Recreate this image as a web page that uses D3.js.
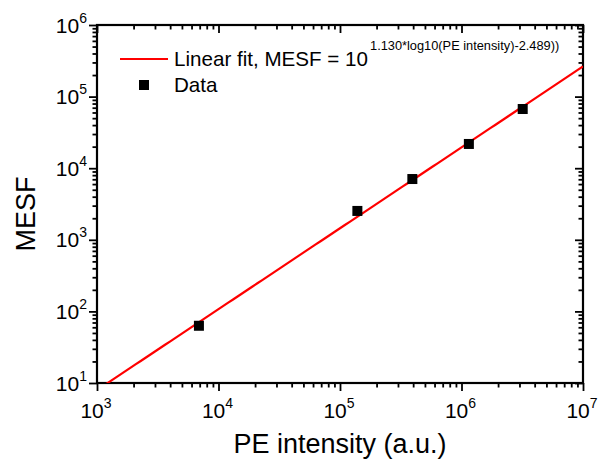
<!DOCTYPE html>
<html>
<head>
<meta charset="utf-8">
<script src="https://cdn.jsdelivr.net/npm/d3@7"></script>
<style>
  html, body { margin: 0; padding: 0; background: #fff; }
  svg { display: block; }
  text { font-family: "Liberation Sans", Arial, sans-serif; fill: #000; }
</style>
</head>
<body>
<svg id="chart" width="599" height="466"></svg>
<script>
// ---- Data ----
const peIntensity = [6.9e3, 1.39e5, 3.94e5, 1.15e6, 3.19e6];
const mesf        = [63, 2530, 7060, 21800, 67100];
const fitSlope = 1.130;
const fitIntercept = -2.489;
const xTickExps = [3, 4, 5, 6, 7];
const yTickExps = [1, 2, 3, 4, 5, 6];
const xLabel = "PE intensity (a.u.)";
const yLabel = "MESF";
const legendFitText = "Linear fit, MESF = 10";
const legendFitSup = "1.130*log10(PE intensity)-2.489))";
const legendDataText = "Data";

// ---- Layout ----
const svg = d3.select("#chart");
const L = 97, R = 583, T = 25, B = 383;

const x = d3.scaleLog().domain([1e3, 1e7]).range([L, R]);
const y = d3.scaleLog().domain([1e1, 1e6]).range([B, T]);

const minorVals = (exps) => {
  const out = [];
  for (let i = 0; i < exps.length - 1; i++)
    for (let m = 2; m <= 9; m++) out.push(m * Math.pow(10, exps[i]));
  return out;
};
const xMajor = xTickExps.map(e => Math.pow(10, e));
const yMajor = yTickExps.map(e => Math.pow(10, e));
const xMinor = minorVals(xTickExps);
const yMinor = minorVals(yTickExps);

function drawAxis(axisGen, vals, size, transform) {
  const g = svg.append("g").attr("transform", transform)
    .call(axisGen.tickValues(vals).tickSize(size).tickFormat(""));
  g.select(".domain").remove();
  g.selectAll(".tick line").attr("stroke", "#000").attr("stroke-width", 1.8);
}
// bottom (outward), left (outward), top (inward), right (inward)
drawAxis(d3.axisBottom(x), xMajor, 8, `translate(0,${B})`);
drawAxis(d3.axisBottom(x), xMinor, 4.5, `translate(0,${B})`);
drawAxis(d3.axisLeft(y), yMajor, 8, `translate(${L},0)`);
drawAxis(d3.axisLeft(y), yMinor, 4.5, `translate(${L},0)`);
drawAxis(d3.axisTop(x), xMajor, -8, `translate(0,${T})`);
drawAxis(d3.axisTop(x), xMinor, -4.5, `translate(0,${T})`);
drawAxis(d3.axisRight(y), yMajor, -8, `translate(${R},0)`);
drawAxis(d3.axisRight(y), yMinor, -4.5, `translate(${R},0)`);

// frame
svg.append("rect").attr("x", L).attr("y", T).attr("width", R - L).attr("height", B - T)
  .attr("fill", "none").attr("stroke", "#000").attr("stroke-width", 2.2);

// tick labels
xTickExps.forEach(e => {
  const t = svg.append("text").attr("x", x(Math.pow(10, e)) - 1).attr("y", 418)
    .attr("text-anchor", "middle").style("font-size", "21px");
  t.append("tspan").text("10");
  t.append("tspan").attr("dy", -10).style("font-size", "14px").text(e);
});
yTickExps.forEach(e => {
  const t = svg.append("text").attr("x", 87).attr("y", y(Math.pow(10, e)) + 7.5)
    .attr("text-anchor", "end").style("font-size", "21px");
  t.append("tspan").text("10");
  t.append("tspan").attr("dy", -10).style("font-size", "14px").text(e);
});

// axis titles
svg.append("text").attr("x", (L + R) / 2).attr("y", 453).attr("text-anchor", "middle")
  .style("font-size", "27px").text(xLabel);
svg.append("text").attr("transform", `translate(35,${(T + B) / 2 + 10}) rotate(-90)`)
  .attr("text-anchor", "middle").style("font-size", "27px").text(yLabel);

// clip
svg.append("clipPath").attr("id", "clip").append("rect")
  .attr("x", L).attr("y", T).attr("width", R - L).attr("height", B - T);

// fit line
const fitPts = d3.range(0, 101).map(i => {
  const lx = 3 + 4 * i / 100;
  return [Math.pow(10, lx), Math.pow(10, fitSlope * lx + fitIntercept)];
});
svg.append("path").attr("clip-path", "url(#clip)")
  .attr("d", d3.line().x(d => x(d[0])).y(d => y(Math.max(d[1], 1))).curve(d3.curveLinear)(fitPts))
  .attr("fill", "none").attr("stroke", "#ff0000").attr("stroke-width", 2.2);

// data markers
const S = 10;
svg.append("g").selectAll("rect").data(peIntensity).join("rect")
  .attr("x", (d) => x(d) - S / 2)
  .attr("y", (d, i) => y(mesf[i]) - S / 2)
  .attr("width", S).attr("height", S).attr("fill", "#000");

// legend
svg.append("line").attr("x1", 120).attr("x2", 168).attr("y1", 59).attr("y2", 59)
  .attr("stroke", "#ff0000").attr("stroke-width", 2.2);
const lt = svg.append("text").attr("x", 174).attr("y", 66).style("font-size", "20.6px");
lt.append("tspan").text(legendFitText);
lt.append("tspan").attr("dx", 2).attr("dy", -16).style("font-size", "12.8px").text(legendFitSup);
svg.append("rect").attr("x", 139).attr("y", 80).attr("width", 10).attr("height", 10).attr("fill", "#000");
svg.append("text").attr("x", 174).attr("y", 92).style("font-size", "20.6px").text(legendDataText);
</script>
</body>
</html>
